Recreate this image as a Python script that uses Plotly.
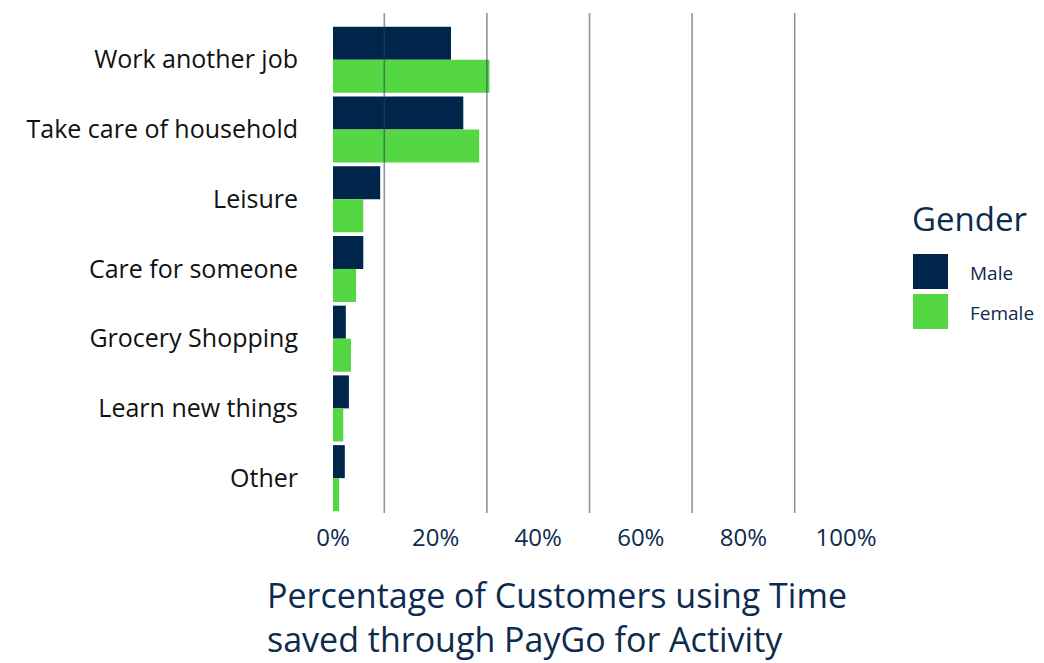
import plotly.graph_objects as go

categories = ["Work another job", "Take care of household", "Leisure", "Care for someone",
              "Grocery Shopping", "Learn new things", "Other"]
male = [23.0, 25.4, 9.2, 5.9, 2.5, 3.1, 2.3]
female = [30.5, 28.5, 5.9, 4.5, 3.5, 2.0, 1.2]
tick_vals = [0, 20, 40, 60, 80, 100]
tick_text = ["0%", "20%", "40%", "60%", "80%", "100%"]
grid_vals = [10, 30, 50, 70, 90]

MALE_C = "#00254a"
FEMALE_C = "#55d643"
NAVY = "#0d2b4e"
FONT = "Open Sans"

fig = go.Figure()
fig.add_trace(go.Bar(y=categories, x=male, orientation="h", name="Male",
                     marker=dict(color=MALE_C, line=dict(width=0))))
fig.add_trace(go.Bar(y=categories, x=female, orientation="h", name="Female",
                     marker=dict(color=FEMALE_C, line=dict(width=0))))

for g in grid_vals:
    fig.add_shape(type="line", xref="x", yref="paper", x0=g, x1=g, y0=0, y1=1,
                  line=dict(color="rgba(40,62,95,0.55)", width=1.6), layer="above")

# manual legend
fig.add_annotation(xref="paper", yref="paper", x=(910 - 333) / 513, y=(513 - 218) / 500,
                   text="Gender", showarrow=False, xanchor="left", yanchor="middle",
                   font=dict(family=FONT, size=33, color=NAVY))
for i, (lab, col) in enumerate([("Male", MALE_C), ("Female", FEMALE_C)]):
    top = 254 + i * 40
    fig.add_shape(type="rect", xref="paper", yref="paper",
                  x0=(913 - 333) / 513, x1=(948 - 333) / 513,
                  y0=(513 - top - 35) / 500, y1=(513 - top) / 500,
                  fillcolor=col, line=dict(width=0))
    fig.add_annotation(xref="paper", yref="paper", x=(968 - 333) / 513,
                       y=(513 - top - 19) / 500, text=lab, showarrow=False,
                       xanchor="left", yanchor="middle",
                       font=dict(family=FONT, size=19, color=NAVY))

# x-axis title
fig.add_annotation(xref="paper", yref="paper", x=(265 - 333) / 513, y=(513 - 570) / 500,
                   text="Percentage of Customers using Time<br>saved through PayGo for Activity",
                   showarrow=False, xanchor="left", yanchor="top", align="left",
                   font=dict(family=FONT, size=34, color=NAVY))

fig.update_layout(
    width=1044, height=663,
    margin=dict(l=333, r=198, t=13, b=150),
    paper_bgcolor="white", plot_bgcolor="white",
    barmode="group", bargap=0.053, bargroupgap=0,
    showlegend=False,
    font=dict(family=FONT),
    xaxis=dict(range=[0, 100], tickvals=tick_vals, ticktext=tick_text, showgrid=False,
               zeroline=False, showline=False, ticks="",
               tickfont=dict(family=FONT, size=24, color=NAVY), ticklabelstandoff=8),
    yaxis=dict(categoryorder="array", categoryarray=categories, range=[6.5, -0.67],
               showgrid=False, zeroline=False, showline=False, ticks="",
               tickfont=dict(family=FONT, size=25, color="#111111"), ticklabelstandoff=34),
)

fig.write_html("out.html")
